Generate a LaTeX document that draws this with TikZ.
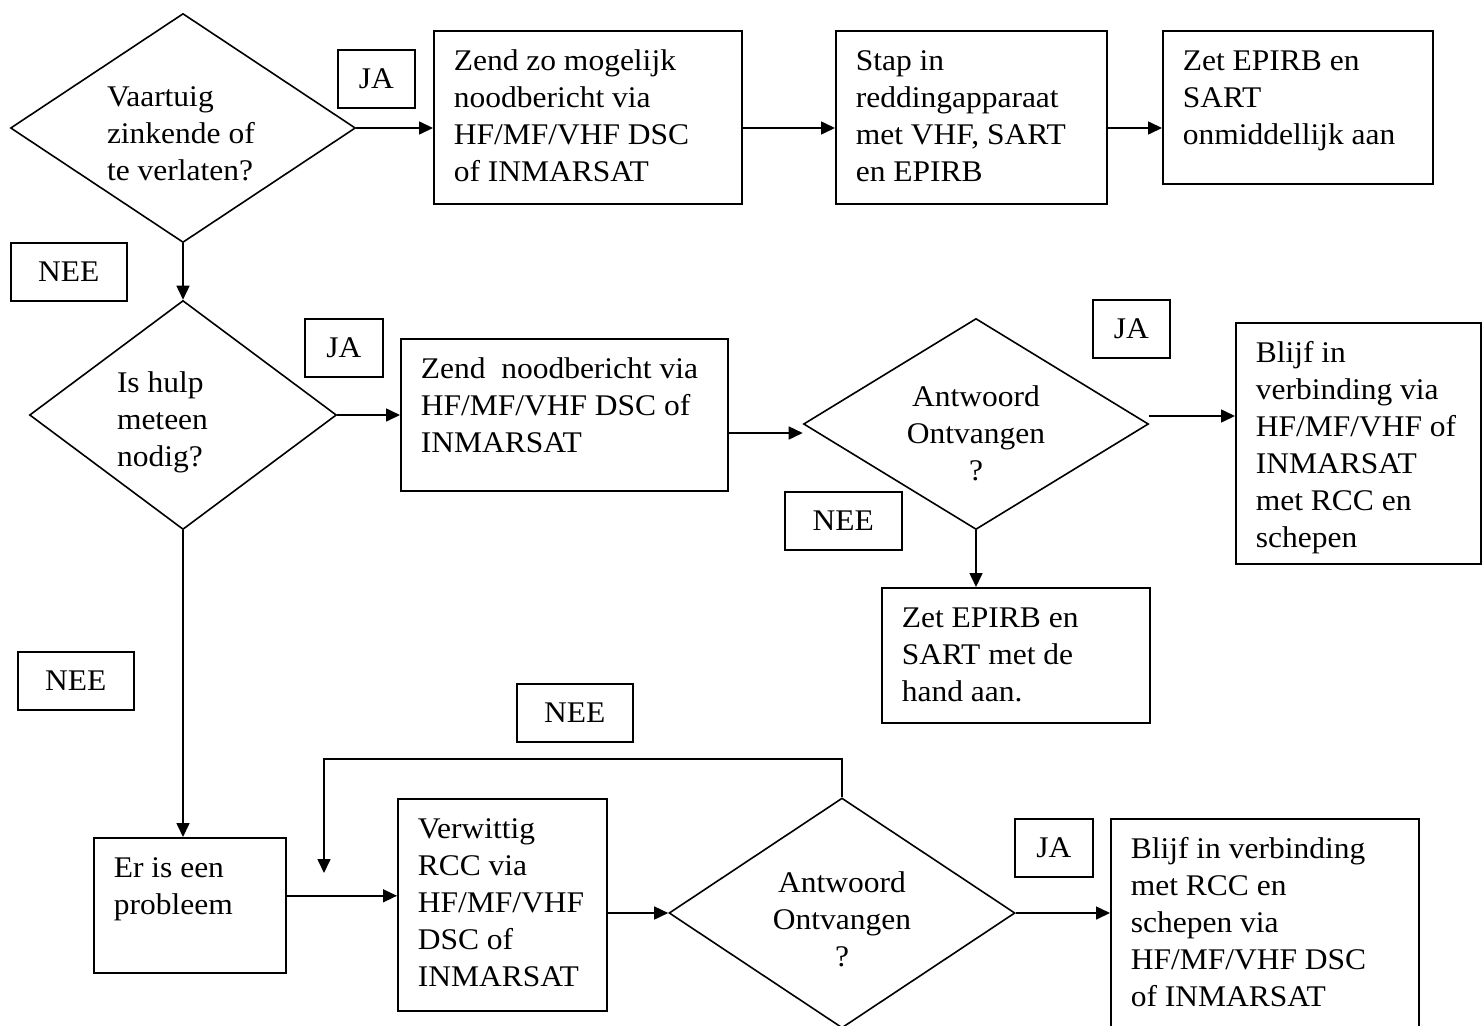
\documentclass[tikz,border=0pt]{standalone}
\usepackage{fontspec}
\setmainfont[FakeStretch=1.05]{Liberation Serif}
\usetikzlibrary{shapes.geometric,arrows.meta}

\newcommand{\ffont}{\fontsize{30}{37}\selectfont}
\newcommand{\boxtxt}[3]{\parbox[c][#2][t]{#1}{\leftskip=20pt\vspace*{14pt}\strut#3}}
\newcommand{\dtxt}[3]{\makebox[0pt]{\raisebox{#2}[0pt][0pt]{\parbox[t]{#1}{#3}}}}

\begin{document}
\begin{tikzpicture}[
  x=1pt, y=-1pt,
  font=\ffont,
  box/.style={
    draw,
    line width=1.6pt,
    anchor=north west,
    inner sep=0pt
  },
  lbl/.style={box, minimum height=58pt},
  dia/.style={draw, shape=diamond, line width=1.6pt, inner sep=0pt},
  conn/.style={draw, line width=1.6pt, -{Triangle[length=14pt,width=13pt]}}
]
\path[use as bounding box, fill=white] (0,0) rectangle (1482,1025);
\clip (0,0) rectangle (1482,1025);

\node[dia, minimum width=345pt, minimum height=229pt] (sinking) at (183,128) {\dtxt{152pt}{22pt}{Vaartuig\\zinkende of\\te verlaten?}};
\node[box] (sendfirst) at (433,30) {\boxtxt{308pt}{173pt}{Zend zo mogelijk\\noodbericht via\\HF/MF/VHF DSC\\of INMARSAT}};
\node[box] (liferaft) at (835,30) {\boxtxt{271pt}{173pt}{Stap in\\reddingapparaat\\met VHF, SART\\en EPIRB}};
\node[box] (autoon) at (1162,30) {\boxtxt{270pt}{153pt}{Zet EPIRB en\\SART\\onmiddellijk aan}};
\node[lbl, minimum width=77pt] (yes1) at (337,49) {JA};
\node[lbl, minimum width=116pt] (no1) at (10,242) {NEE};

\node[dia, minimum width=307pt, minimum height=229pt] (needhelp) at (183,415) {\dtxt{132pt}{23pt}{Is hulp\\meteen\\nodig?}};
\node[box] (sendsecond) at (400,338) {\boxtxt{327pt}{152pt}{Zend~ noodbericht via\\HF/MF/VHF DSC of\\INMARSAT}};
\node[dia, minimum width=345pt, minimum height=211pt] (answer1) at (976,424) {\dtxt{200pt}{18pt}{\centering Antwoord\\Ontvangen\\?}};
\node[box] (keepcontact1) at (1235,322) {\boxtxt{245pt}{241pt}{Blijf in\\verbinding via\\HF/MF/VHF of\\INMARSAT\\met RCC en\\schepen}};
\node[box] (handon) at (881,587) {\boxtxt{268pt}{135pt}{Zet EPIRB en\\SART met de\\hand aan.}};
\node[lbl, minimum width=78pt] (yes2) at (304,318) {JA};
\node[lbl, minimum width=77pt] (yes3) at (1092,299) {JA};
\node[lbl, minimum width=117pt] (no3) at (784,491) {NEE};

\node[lbl, minimum width=116pt] (no2) at (17,651) {NEE};
\node[lbl, minimum width=116pt] (no4) at (516,683) {NEE};
\node[box] (problem) at (93,837) {\boxtxt{192pt}{135pt}{Er is een\\probleem}};
\node[box] (notify) at (397,798) {\boxtxt{209pt}{212pt}{Verwittig\\RCC via\\HF/MF/VHF\\DSC of\\INMARSAT}};
\node[dia, minimum width=346pt, minimum height=230pt] (answer2) at (842,913) {\dtxt{200pt}{21pt}{\centering Antwoord\\Ontvangen\\?}};
\node[lbl, minimum width=78pt] (yes4) at (1014,818) {JA};
\node[box] (keepcontact2) at (1110,818) {\boxtxt{308pt}{230pt}{Blijf in verbinding\\met RCC en\\schepen via\\HF/MF/VHF DSC\\of INMARSAT}};
\coordinate (answerin) at ([yshift=-9pt]answer1.west);
\coordinate (answerout) at ([yshift=8pt]answer1.east);
\coordinate (problemout) at ([yshift=9.5pt]problem.east);
\coordinate (loopend) at (324,873);

\draw[conn] (sinking.east) -- (sinking.east -| sendfirst.west);
\draw[conn] (sendfirst.east |- sinking.east) -- (liferaft.west |- sinking.east);
\draw[conn] (liferaft.east |- sinking.east) -- (autoon.west |- sinking.east);
\draw[conn] (sinking.south) -- (needhelp.north);
\draw[conn] (needhelp.east) -- (needhelp.east -| sendsecond.west);
\draw[conn] (sendsecond.east |- answerin) -- (answerin);
\draw[conn] (answerout) -- (answerout -| keepcontact1.west);
\draw[conn] (answer1.south) -- (answer1.south |- handon.north);
\draw[conn] (needhelp.south) -- (needhelp.south |- problem.north);
\draw[conn] (problemout) -- (problemout -| notify.west);
\draw[conn] (notify.east |- answer2.west) -- (answer2.west);
\draw[conn] (answer2.north) -- ++(0,-38) -| (loopend);
\draw[conn] (answer2.east) -- (answer2.east -| keepcontact2.west);
\end{tikzpicture}
\end{document}
